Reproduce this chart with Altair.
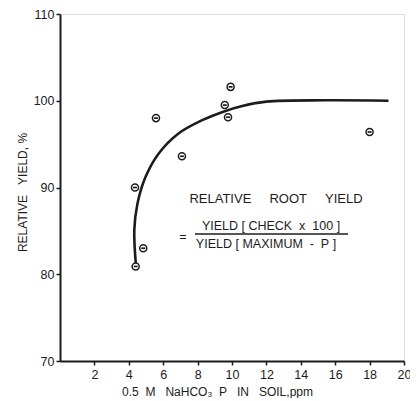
import altair as alt
import pandas as pd

# Observed points
obs_x = [4.4, 4.36, 4.84, 5.58, 7.09, 9.58, 9.77, 9.92, 18.0]
obs_y = [80.9, 90.0, 83.0, 98.0, 93.6, 99.5, 98.1, 101.6, 96.4]

# Fitted curve
fit_x = [4.42, 4.32, 4.5, 4.97, 5.73, 6.87, 8.2, 9.58, 10.6, 12.0, 15.4, 19.1]
fit_y = [80.9, 85.1, 88.1, 91.2, 93.9, 96.2, 97.7, 98.8, 99.4, 99.9, 100.05, 100.0]

x_ticks = [2, 4, 6, 8, 10, 12, 14, 16, 18, 20]
y_ticks = [70, 80, 90, 100, 110]

obs = pd.DataFrame({"x": obs_x, "y": obs_y})
fit = pd.DataFrame({"x": fit_x, "y": fit_y, "i": list(range(len(fit_x)))})

FONT = "Liberation Sans"
INK = "#1c1c1c"
NB = "\u00a0"

xs = alt.Scale(domain=[0, 20], nice=False, zero=False)
ys = alt.Scale(domain=[70, 110], nice=False, zero=False)

xaxis = alt.Axis(
    values=x_ticks, title=f"0.5{NB*2}M{NB*3}NaHCO\u2083{NB*2}P{NB*3}IN{NB*3}SOIL,ppm",
    grid=False, domainColor=INK, domainWidth=2, tickColor=INK, tickWidth=1.5, tickSize=4,
    labelFont=FONT, labelFontSize=12.5, labelColor=INK, labelPadding=3,
    labelOverlap=False, labelFlush=False,
    titleFont=FONT, titleFontSize=12, titleFontWeight="normal", titleColor=INK,
    titleX=157, titleY=30, titleBaseline="middle", titleAnchor="middle",
)
yaxis = alt.Axis(
    values=y_ticks, title=f"RELATIVE{NB*3}YIELD,{NB}%",
    grid=False, domainColor=INK, domainWidth=2, tickColor=INK, tickWidth=1.5, tickSize=4,
    labelFont=FONT, labelFontSize=12.5, labelColor=INK, labelPadding=2,
    labelOverlap=False, labelFlush=False,
    titleFont=FONT, titleFontSize=12, titleFontWeight="normal", titleColor=INK,
    titleX=-38, titleY=178, titleBaseline="middle", titleAngle=-90, titleAnchor="middle",
)

X = alt.X("x:Q", scale=xs, axis=xaxis)
Y = alt.Y("y:Q", scale=ys, axis=yaxis)

curve = alt.Chart(fit).mark_line(
    interpolate="catmull-rom", color=INK, strokeWidth=2.6
).encode(x=X, y=Y, order="i:Q")

circles = alt.Chart(obs).mark_point(
    shape="circle", size=50, filled=True, fill="white", stroke=INK, strokeWidth=1.5, opacity=1
).encode(x=X, y=Y)

dashes = alt.Chart(obs).mark_point(
    shape="M-0.55,0L0.55,0", size=50, stroke=INK, strokeWidth=1.7, opacity=1
).encode(x=X, y=Y)

label_df = pd.DataFrame({"t": [f"RELATIVE{NB*5}ROOT{NB*5}YIELD"]})
title_txt = alt.Chart(label_df).mark_text(
    font=FONT, fontSize=13, color=INK, align="center", baseline="middle"
).encode(text="t:N", x=alt.value(216), y=alt.value(185))

num_df = pd.DataFrame({"t": [f"YIELD{NB}[{NB}CHECK{NB*2}x{NB*2}100{NB}]"]})
num_txt = alt.Chart(num_df).mark_text(
    font=FONT, fontSize=12.5, color=INK, align="center", baseline="middle"
).encode(text="t:N", x=alt.value(211), y=alt.value(212))

den_df = pd.DataFrame({"t": [f"YIELD{NB}[{NB}MAXIMUM{NB*2}-{NB*2}P{NB}]"]})
den_txt = alt.Chart(den_df).mark_text(
    font=FONT, fontSize=12.5, color=INK, align="center", baseline="middle"
).encode(text="t:N", x=alt.value(206), y=alt.value(230))

eq_df = pd.DataFrame({"t": ["="]})
eq_txt = alt.Chart(eq_df).mark_text(
    font=FONT, fontSize=12.5, color=INK, align="center", baseline="middle"
).encode(text="t:N", x=alt.value(123), y=alt.value(223))

frac_line = alt.Chart(pd.DataFrame({"a": [0]})).mark_rule(color=INK, strokeWidth=1.3).encode(
    x=alt.value(135), x2=alt.value(288), y=alt.value(220)
)

chart = alt.layer(
    curve, circles, dashes, title_txt, num_txt, den_txt, eq_txt, frac_line
).properties(
    width=344, height=347,
    autosize=alt.AutoSizeParams(type="none"),
    padding={"left": 52, "top": 6, "right": 6, "bottom": 37},
).configure_view(stroke=None).configure_axis(labelOverlap=False).configure(background="white")

chart.save("out.html", embed_options={"renderer": "svg", "actions": False})
